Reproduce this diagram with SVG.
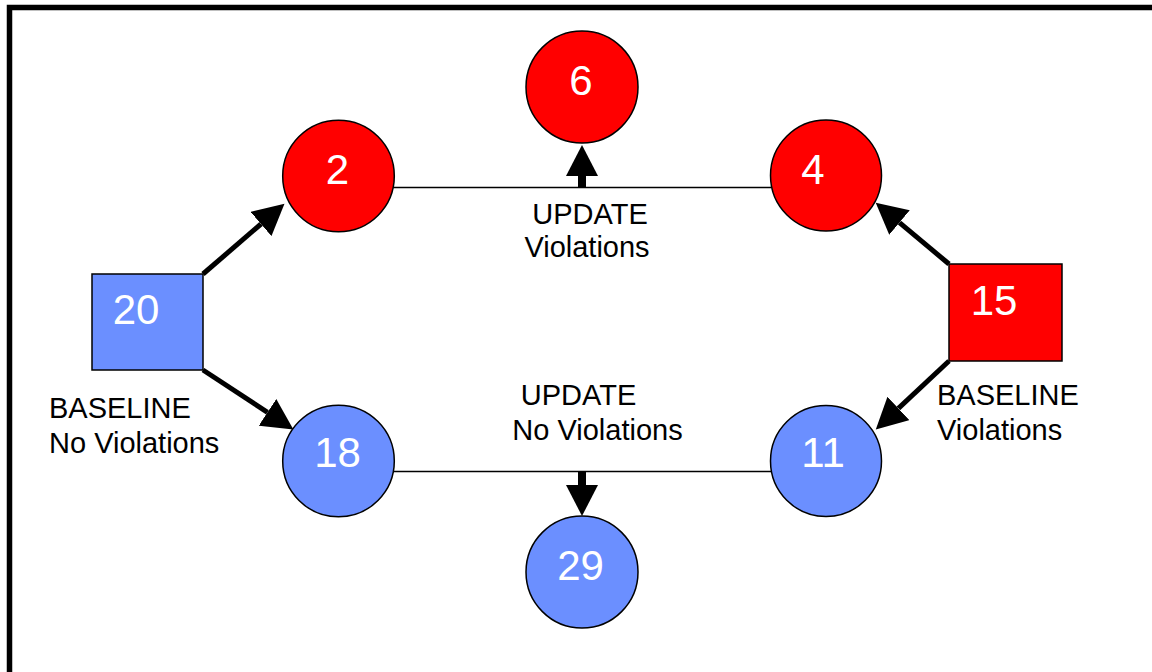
<svg xmlns="http://www.w3.org/2000/svg" width="1152" height="672" viewBox="0 0 1152 672">
  <style>
    text { font-family: "Liberation Sans", Arial, sans-serif; }
    .num { fill: #ffffff; font-size: 42px; text-anchor: middle; }
    .lbl { fill: #000000; font-size: 29px; }
    .red { fill: #ff0000; stroke: #000000; stroke-width: 1.5; }
    .blue { fill: #6b8fff; stroke: #000000; stroke-width: 1.5; }
    .link { stroke: #000000; stroke-width: 1.5; fill: none; }
    .arr { stroke: #000000; stroke-width: 5; fill: none; marker-end: url(#head); }
    .arrv { stroke: #000000; stroke-width: 8; fill: none; marker-end: url(#head); }
  </style>
  <defs>
    <marker id="head" markerUnits="userSpaceOnUse" markerWidth="32" markerHeight="32" viewBox="0 0 32 32" refX="0" refY="16" orient="auto">
      <path d="M0,0 L31,16 L0,32 Z" fill="#000000"/>
    </marker>
  </defs>

  <rect width="1152" height="672" fill="#ffffff"/>
  <!-- outer frame -->
  <rect x="9.5" y="7.5" width="1160" height="690" fill="none" stroke="#000000" stroke-width="5.5"/>

  <!-- connectors -->
  <g id="connectors">
    <line class="link" x1="393" y1="187.5" x2="771" y2="187.5"/>
    <line class="link" x1="393" y1="471.5" x2="771" y2="471.5"/>
    <line class="arrv" x1="582" y1="188" x2="582" y2="176"/>
    <line class="arrv" x1="582" y1="471" x2="582" y2="485"/>
    <line class="arr" x1="203" y1="274" x2="261" y2="224"/>
    <line class="arr" x1="203" y1="370" x2="267.5" y2="412.4"/>
    <line class="arr" x1="949" y1="264" x2="899.5" y2="222.6"/>
    <line class="arr" x1="949" y1="361" x2="898.4" y2="408.4"/>
  </g>

  <g id="node-20">
    <rect class="blue" x="92" y="274" width="111" height="96"/>
    <text class="num" x="136" y="324">20</text>
  </g>
  <g id="node-15">
    <rect class="red" x="949" y="264" width="113" height="97"/>
    <text class="num" x="994" y="315">15</text>
  </g>
  <g id="node-2">
    <circle class="red" cx="338.5" cy="176" r="55.8"/>
    <text class="num" x="337.5" y="184">2</text>
  </g>
  <g id="node-4">
    <circle class="red" cx="826" cy="175.5" r="55.5"/>
    <text class="num" x="813" y="184">4</text>
  </g>
  <g id="node-6">
    <circle class="red" cx="582" cy="87" r="56"/>
    <text class="num" x="581" y="95">6</text>
  </g>
  <g id="node-18">
    <circle class="blue" cx="338.5" cy="461" r="55.8"/>
    <text class="num" x="337.5" y="467">18</text>
  </g>
  <g id="node-11">
    <circle class="blue" cx="826" cy="461" r="55.5"/>
    <text class="num" x="823" y="467">11</text>
  </g>
  <g id="node-29">
    <circle class="blue" cx="582" cy="572" r="56"/>
    <text class="num" x="580.5" y="580">29</text>
  </g>

  <g id="labels">
    <text class="lbl" x="49" y="418">BASELINE</text>
    <text class="lbl" x="49" y="453">No Violations</text>
    <text class="lbl" x="937" y="405">BASELINE</text>
    <text class="lbl" x="937" y="439.5">Violations</text>
    <text class="lbl" x="590" y="223.5" text-anchor="middle">UPDATE</text>
    <text class="lbl" x="587" y="257" text-anchor="middle">Violations</text>
    <text class="lbl" x="578.5" y="404.5" text-anchor="middle">UPDATE</text>
    <text class="lbl" x="597.5" y="439.5" text-anchor="middle">No Violations</text>
  </g>
</svg>
